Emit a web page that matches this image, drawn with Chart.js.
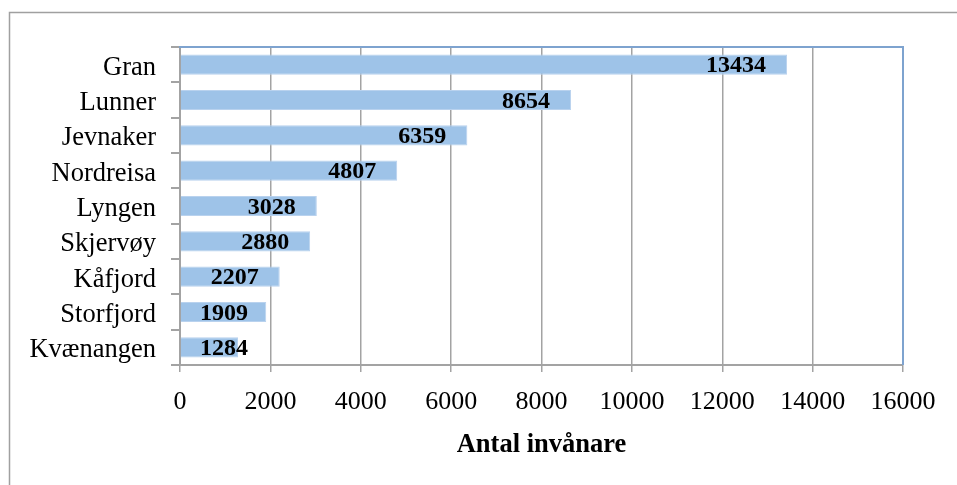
<!DOCTYPE html>
<html>
<head>
<meta charset="utf-8">
<script src="https://cdn.jsdelivr.net/npm/chart.js@4"></script>
<style>
  html, body { margin: 0; padding: 0; background: #fff; }
  #wrap { position: relative; width: 957px; height: 485px; }
</style>
</head>
<body>
<div id="wrap"><canvas id="chart" width="957" height="485"></canvas></div>
<script>
// Population per municipality (top to bottom).
const municipalities = [
  "Gran", "Lunner", "Jevnaker", "Nordreisa", "Lyngen",
  "Skjervøy", "Kåfjord", "Storfjord", "Kvænangen",
];
const inhabitants = [13434, 8654, 6359, 4807, 3028, 2880, 2207, 1909, 1284];
const axisTitle = "Antal invånare";
const xMax = 16000;
const xStep = 2000;

const serif = "'Liberation Serif', 'Times New Roman', serif";
const gridGray = "#a3a3a3";
const frameBlue = "#7ea3cf";

// Gray frame around the whole chart (only top and left are visible).
const outerFrame = {
  id: "outerFrame",
  beforeDraw(chart) {
    const { ctx } = chart;
    ctx.save();
    ctx.strokeStyle = "#a0a0a0";
    ctx.lineWidth = 1.5;
    ctx.beginPath();
    ctx.moveTo(9.5, 485);
    ctx.lineTo(9.5, 12.5);
    ctx.lineTo(957, 12.5);
    ctx.stroke();
    ctx.restore();
  },
};

// Blue top and right edges of the plot area.
const plotFrame = {
  id: "plotFrame",
  afterDraw(chart) {
    const { ctx, chartArea: a } = chart;
    ctx.save();
    ctx.strokeStyle = frameBlue;
    ctx.lineWidth = 2;
    ctx.beginPath();
    ctx.moveTo(a.left - 1, a.top);
    ctx.lineTo(a.right, a.top);
    ctx.lineTo(a.right, a.bottom);
    ctx.stroke();
    ctx.restore();
  },
};

// Bold value labels, near the end of each bar (Excel "inside end" look).
const valueLabels = {
  id: "valueLabels",
  afterDatasetsDraw(chart) {
    const { ctx, chartArea: a } = chart;
    const meta = chart.getDatasetMeta(0);
    ctx.save();
    ctx.font = "bold 24px " + serif;
    ctx.fillStyle = "#000";
    ctx.textBaseline = "middle";
    ctx.textAlign = "right";
    meta.data.forEach((bar, i) => {
      const text = String(inhabitants[i]);
      const w = ctx.measureText(text).width;
      let right = bar.x - 21;
      if (right - w < a.left + 20) right = a.left + 20 + w;
      ctx.fillText(text, right, bar.y + 1.5);
    });
    ctx.restore();
  },
};

new Chart(document.getElementById("chart"), {
  type: "bar",
  data: {
    labels: municipalities,
    datasets: [
      {
        data: inhabitants,
        backgroundColor: "#9ec3e8",
        borderColor: "#b9d2ee",
        borderWidth: 1,
        barPercentage: 0.57,
        categoryPercentage: 1,
      },
    ],
  },
  options: {
    indexAxis: "y",
    responsive: false,
    animation: false,
    layout: { padding: { top: 47, right: 54, left: 0, bottom: 0 } },
    plugins: { legend: { display: false }, tooltip: { enabled: false } },
    scales: {
      x: {
        min: 0,
        max: xMax,
        afterFit(scale) { scale.height = 120; },
        ticks: {
          stepSize: xStep,
          color: "#000",
          padding: 15,
          font: { family: serif, size: 26 },
          callback: (v) => String(v),
        },
        grid: { color: gridGray, lineWidth: 1.5, tickLength: 7, tickColor: gridGray },
        border: { color: gridGray, width: 2 },
        title: {
          display: true,
          text: axisTitle,
          color: "#000",
          font: { family: serif, size: 26.5, weight: "bold" },
          padding: { top: 0, bottom: 24 },
        },
      },
      y: {
        afterFit(scale) { scale.width = 180; },
        ticks: {
          color: "#000",
          padding: 15,
          labelOffset: 3,
          font: { family: serif, size: 26.5 },
        },
        grid: { drawOnChartArea: false, tickLength: 9, color: gridGray, lineWidth: 2 },
        border: { color: gridGray, width: 2 },
      },
    },
  },
  plugins: [outerFrame, plotFrame, valueLabels],
});
</script>
</body>
</html>
